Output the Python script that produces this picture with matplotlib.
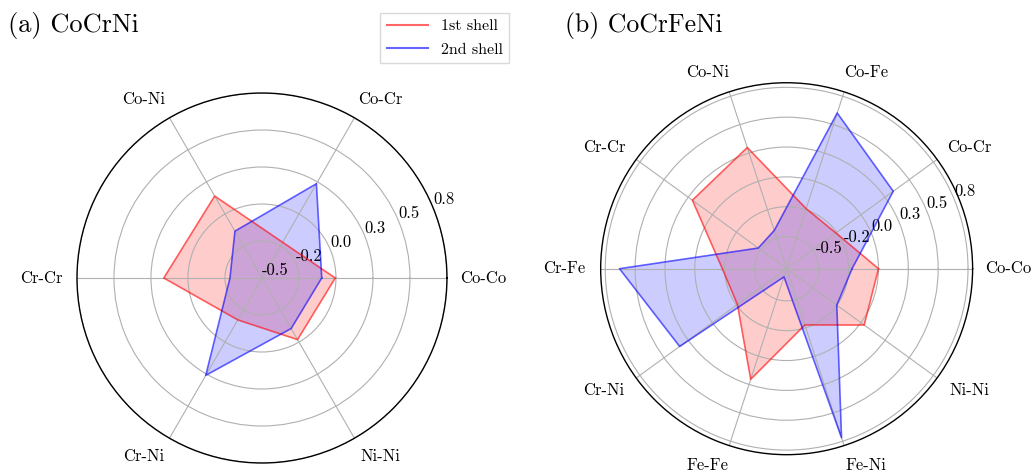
import numpy as np
import matplotlib
matplotlib.use('Agg')
from matplotlib import pyplot as plt
from matplotlib.lines import Line2D

plt.rcParams['font.family'] = ['cmr10', 'DejaVu Serif']
plt.rcParams['mathtext.fontset'] = 'cm'
plt.rcParams['axes.unicode_minus'] = False

# CoCrNi pair correlations
pairs_a = ['Co-Co', 'Co-Cr', 'Co-Ni', 'Cr-Cr', 'Cr-Ni', 'Ni-Ni']
shell1_a = [0.015, -0.21, 0.165, 0.19, -0.16, 0.0]
shell2_a = [-0.08, 0.265, -0.12, -0.275, 0.29, -0.09]

# CoCrFeNi pair correlations
pairs_b = ['Co-Co', 'Co-Cr', 'Co-Fe', 'Co-Ni', 'Cr-Cr', 'Cr-Fe', 'Cr-Ni', 'Fe-Fe', 'Fe-Ni', 'Ni-Ni']
shell1_b = [0.02, -0.25, -0.23, 0.33, 0.235, -0.22, -0.25, 0.233, -0.265, 0.055]
shell2_b = [-0.21, 0.368, 0.646, -0.43, -0.474, 0.676, 0.372, -0.705, 0.768, -0.24]

rticks = np.linspace(-0.5, 0.8, 6)
rtick_labels = ['%.1f' % t for t in rticks]


def radar(ax, pairs, s1, s2, rlim):
    n = len(pairs)
    theta = np.linspace(0, 2 * np.pi, n, endpoint=False)
    th = np.append(theta, theta[0])
    for vals, col in ((s1, 'red'), (s2, 'blue')):
        v = np.append(vals, vals[0])
        ax.plot(th, v, color=col, alpha=0.6, lw=1.2)
        ax.fill(th, v, color=col, alpha=0.2, lw=0)
    ax.set_xticks(theta)
    ax.set_xticklabels([])
    ax.set_yticks(rticks)
    ax.set_yticklabels(rtick_labels, fontsize=12)
    ax.set_ylim(*rlim)
    ax.grid(color='#b0b0b0', lw=0.8)
    ax.spines['polar'].set_linewidth(1.0)
    # pair names sit just outside the rim, pushed sideways away from the centre
    for t, name in zip(theta, pairs):
        c, s = np.cos(t), np.sin(t)
        side = 0 if abs(c) < 1e-6 else np.sign(c)
        ax.annotate(name, xy=(t, rlim[1]), xytext=(15 * c + 11 * side, 15 * s),
                    textcoords='offset points', ha='center', va='center',
                    fontsize=12, annotation_clip=False)


fig = plt.figure(figsize=(10.32, 4.72), dpi=100)
ax1 = fig.add_axes([0.0746, 0.019, 0.3585, 0.784], polar=True)
ax2 = fig.add_axes([0.582, 0.0367, 0.3605, 0.788], polar=True)

radar(ax1, pairs_a, shell1_a, shell2_a, (-0.5, 0.8))
radar(ax2, pairs_b, shell1_b, shell2_b, (-0.78, 0.84))

fig.text(0.008, 0.945, '(a) CoCrNi', fontsize=19, va='center', ha='left')
fig.text(0.547, 0.945, '(b) CoCrFeNi', fontsize=18.5, va='center', ha='left')

handles = [Line2D([0], [0], color='red', alpha=0.6, lw=1.5),
           Line2D([0], [0], color='blue', alpha=0.6, lw=1.5)]
fig.legend(handles, ['1st shell', '2nd shell'], loc='upper center',
           bbox_to_anchor=(0.431, 0.99), fontsize=11.5, fancybox=False,
           edgecolor='#d0d0d0', handlelength=2.6, labelspacing=0.6)

fig.savefig('out.png', dpi=100)
